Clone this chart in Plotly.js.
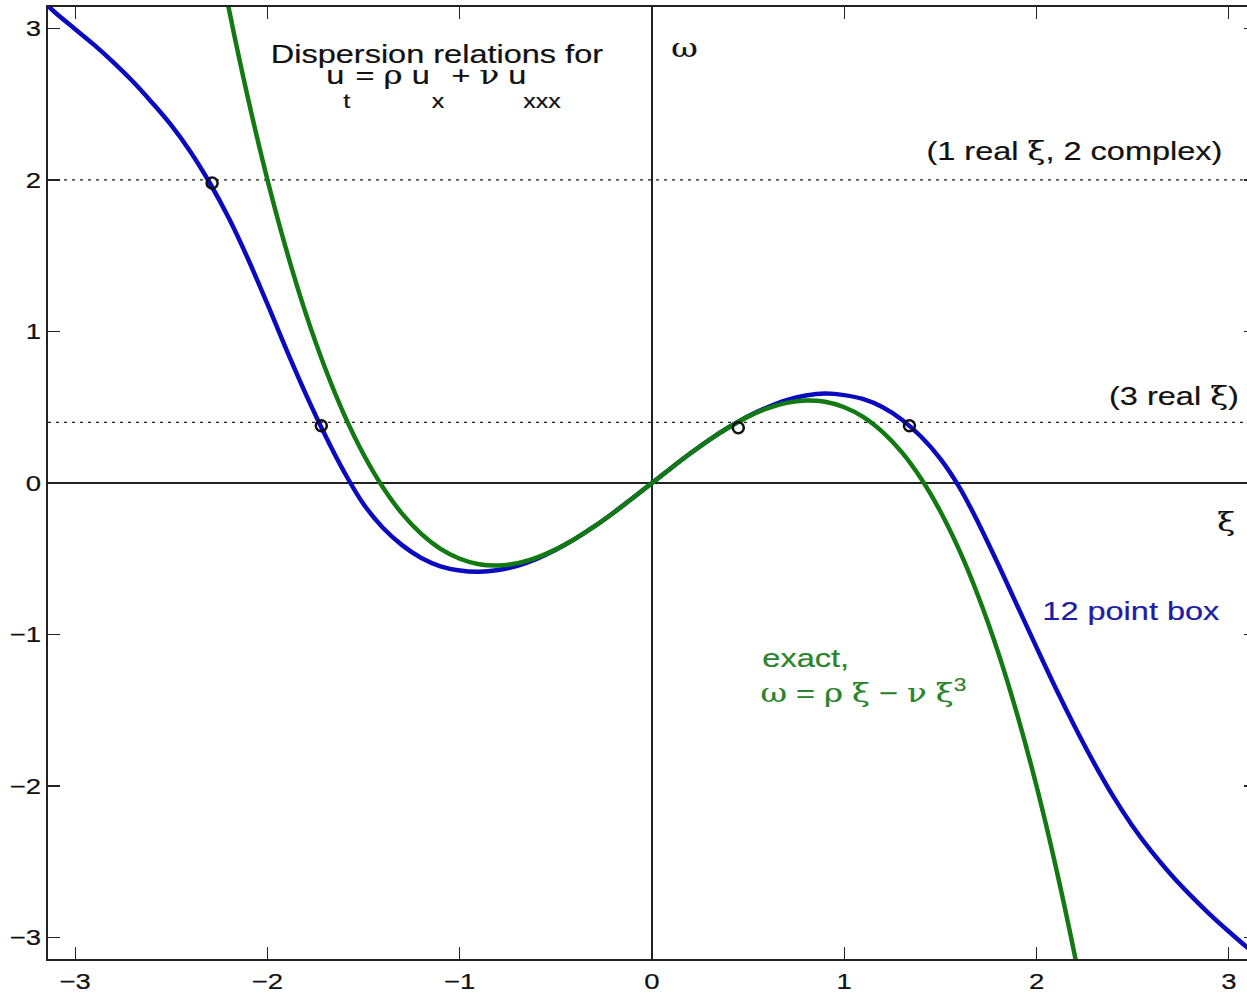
<!DOCTYPE html>
<html>
<head>
<meta charset="utf-8">
<script src="https://cdn.plot.ly/plotly-3.0.1.min.js"></script>
<style>
  html, body { margin: 0; padding: 0; overflow: hidden; background: #ffffff; }
  #chart { width: 1262px; height: 997px; }
</style>
</head>
<body>
<div id="chart"></div>
<script>
// Dispersion relation of the 12 point box scheme, omega(xi)
const xiBox = [-3.1416, -3.1, -3.0, -2.9, -2.8, -2.7, -2.6, -2.5, -2.4, -2.3, -2.2, -2.1, -2.0,
  -1.9, -1.8, -1.7, -1.6, -1.5, -1.4, -1.3, -1.2, -1.1, -1.0, -0.9, -0.8, -0.7, -0.6, -0.5,
  -0.4, -0.3, -0.2, -0.1, 0.0, 0.1, 0.2, 0.3, 0.4, 0.5, 0.6, 0.7, 0.8, 0.9, 1.0, 1.1, 1.2,
  1.3, 1.4, 1.5, 1.6, 1.7, 1.8, 1.9, 2.0, 2.1, 2.2, 2.3, 2.4, 2.5, 2.6, 2.7, 2.8, 2.9, 3.0,
  3.1, 3.1416];
const omegaBox = [3.15, 3.10, 2.995, 2.89, 2.775, 2.65, 2.51, 2.36, 2.185, 1.98, 1.745, 1.475,
  1.18, 0.875, 0.585, 0.315, 0.07, -0.14, -0.295, -0.41, -0.495, -0.55, -0.578, -0.586, -0.574,
  -0.546, -0.501, -0.441, -0.369, -0.287, -0.196, -0.0995, 0.0, 0.0995, 0.196, 0.287, 0.368,
  0.441, 0.50, 0.547, 0.577, 0.59, 0.58, 0.553, 0.50, 0.418, 0.305, 0.16, -0.03, -0.27, -0.535,
  -0.81, -1.085, -1.355, -1.61, -1.85, -2.07, -2.265, -2.435, -2.585, -2.72, -2.845, -2.96,
  -3.07, -3.113];

// Exact relation omega = rho*xi - nu*xi^3
const xiExact = [-2.3, -2.2, -2.1, -2.0, -1.9, -1.8, -1.7, -1.6, -1.5, -1.4, -1.3, -1.2, -1.1,
  -1.0, -0.9, -0.8, -0.7, -0.6, -0.5, -0.4, -0.3, -0.2, -0.1, 0.0, 0.1, 0.2, 0.3, 0.4, 0.5,
  0.6, 0.7, 0.8, 0.9, 1.0, 1.1, 1.2, 1.3, 1.4, 1.5, 1.6, 1.7, 1.8, 1.9, 2.0, 2.1, 2.2, 2.3];
const omegaExact = [3.784, 3.124, 2.531, 2.0, 1.530, 1.116, 0.757, 0.448, 0.188, -0.028, -0.202,
  -0.336, -0.435, -0.5, -0.536, -0.544, -0.529, -0.492, -0.438, -0.368, -0.287, -0.196, -0.0995,
  0.0, 0.0995, 0.196, 0.287, 0.368, 0.438, 0.492, 0.529, 0.544, 0.536, 0.5, 0.435, 0.336, 0.202,
  0.028, -0.188, -0.448, -0.757, -1.116, -1.530, -2.0, -2.531, -3.124, -3.784];

// Horizontal frequency levels
const levels = [2, 0.4];

// Real roots xi marked on the box-scheme curve
const rootXi = [-2.288, -1.720, 0.449, 1.339];
const rootOmega = [1.98, 0.378, 0.365, 0.378];

const tickVals = [-3, -2, -1, 0, 1, 2, 3];

const PI = Math.PI;
const INK = '#111111';
const BLUE = '#0a0abe';
const GREEN = '#137a13';
const SERIF = "font-family:'DejaVu Serif','Liberation Serif',serif";
const g = s => `<span style="${SERIF}">${s}</span>`;

const traces = [];
levels.forEach(lv => {
  traces.push({
    x: [-PI, PI], y: [lv, lv], mode: 'lines', hoverinfo: 'skip',
    line: { color: '#1a1a1a', width: 1.2, dash: '3px,5px' }
  });
});
traces.push({
  x: xiBox, y: omegaBox, mode: 'lines', hoverinfo: 'skip',
  line: { color: BLUE, width: 4.5, shape: 'spline', smoothing: 1 }
});
traces.push({
  x: xiExact, y: omegaExact, mode: 'lines', hoverinfo: 'skip',
  line: { color: GREEN, width: 4.5, shape: 'spline', smoothing: 1 }
});
traces.push({
  x: rootXi, y: rootOmega, mode: 'markers', hoverinfo: 'skip',
  marker: { symbol: 'circle-open', size: 11, color: '#111111', line: { width: 2.5 } }
});

const axisStyle = {
  range: [-PI, PI], tickvals: tickVals, ticks: 'inside', ticklen: 12, tickwidth: 1.3,
  tickcolor: '#222222', showline: true, linecolor: '#222222', linewidth: 1.6,
  mirror: 'ticks', showgrid: false, zeroline: true, zerolinecolor: '#222222',
  zerolinewidth: 1.4, tickfont: { size: 22, color: INK }, fixedrange: true
};

function note(x, y, text, opts) {
  const o = opts || {};
  return {
    x: x, y: y, xref: 'x', yref: 'y', text: text, showarrow: false,
    xanchor: 'center', yanchor: 'middle',
    font: { size: o.size || 26, color: o.color || INK }
  };
}

const annotations = [
  note(-1.117, 2.832, 'Dispersion relations for'),
  note(-1.647, 2.695, 'u'),
  note(-1.585, 2.52, 't', { size: 20 }),
  note(-1.348, 2.695, '= ' + g('ρ') + ' u'),
  note(-1.114, 2.52, 'x', { size: 20 }),
  note(-0.849, 2.695, '+ ' + g('ν') + ' u'),
  note(-0.573, 2.52, 'xxx', { size: 20 }),
  note(0.171, 2.873, g('ω')),
  note(2.197, 2.191, '(1 real ' + g('ξ') + ', 2 complex)'),
  note(2.717, 0.574, '(3 real ' + g('ξ') + ')'),
  note(2.987, -0.257, g('ξ')),
  note(2.493, -0.845, '12 point box', { color: '#1c1ca6' }),
  note(0.800, -1.155, 'exact,', { color: '#2a842a' }),
  note(1.102, -1.373, g('ω') + ' = ' + g('ρ') + ' ' + g('ξ') + ' − ' + g('ν') + ' ' + g('ξ') + '<sup>3</sup>',
       { color: '#2a842a' })
];

const layout = {
  width: 1262, height: 997,
  margin: { l: 48, r: 6, t: 7, b: 38 },
  paper_bgcolor: '#ffffff', plot_bgcolor: '#ffffff',
  showlegend: false,
  font: { family: "'Liberation Sans', Arial, Helvetica, sans-serif", color: INK, size: 22 },
  xaxis: Object.assign({}, axisStyle, { ticklabelstandoff: 2 }),
  yaxis: Object.assign({}, axisStyle, { ticklabelstandoff: 1 }),
  annotations: annotations
};

// Widen every label horizontally around its anchor and give it a slightly heavier stroke
function widenText(gd, factor) {
  gd.querySelectorAll('text.annotation-text, .xtick text, .ytick text').forEach(el => {
    const bb = el.getBBox();
    const rightAnchored = el.closest('.ytick') !== null;
    const cx = rightAnchored ? bb.x + bb.width : bb.x + bb.width / 2;
    const prev = el.getAttribute('transform') || '';
    el.setAttribute('transform',
      `${prev} translate(${cx},0) scale(${factor},1) translate(${-cx},0)`.trim());
    const fill = window.getComputedStyle(el).fill;
    el.style.stroke = fill;
    el.style.strokeWidth = '0.2px';
  });
}

Plotly.newPlot('chart', traces, layout, { staticPlot: true, displayModeBar: false })
  .then(gd => widenText(gd, 1.25));
</script>
</body>
</html>
